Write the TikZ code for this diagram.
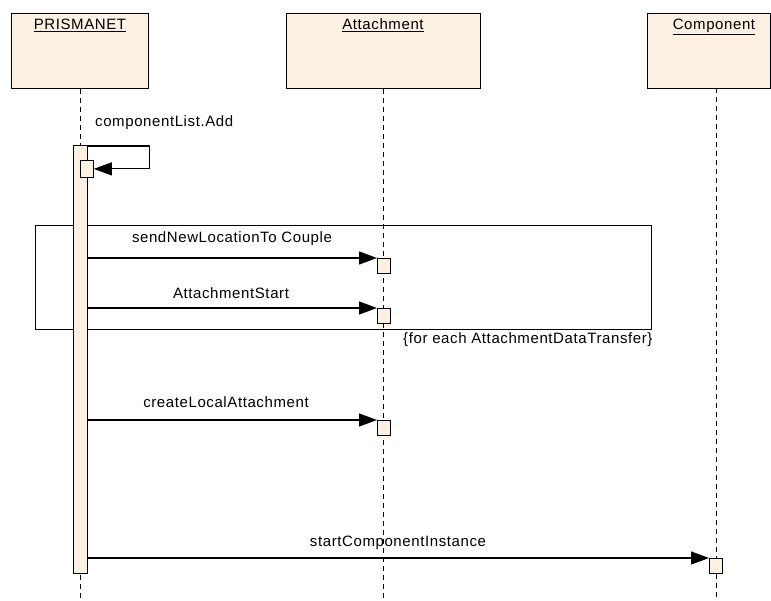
\documentclass[tikz,border=0pt]{standalone}
\usepackage{fontspec}
\setmainfont{Liberation Sans}[LetterSpace=4]
\usepackage{xcolor}
\usepackage{tikz}
\usetikzlibrary{shapes,arrows,arrows.meta,positioning}

\definecolor{umlbeige}{RGB}{251,240,225}

\begin{document}
\begin{tikzpicture}[x=1pt,y=-1pt,
        font=\fontsize{15}{18}\selectfont,
        head/.style={draw, line width=0.9pt, fill=umlbeige, anchor=north west, inner sep=0pt},
        act/.style={draw, line width=0.8pt, fill=umlbeige, anchor=north west, inner sep=0pt,
                    minimum width=13pt, minimum height=15pt},
        lifeline/.style={line width=0.9pt, dash pattern=on 5pt off 4pt},
        msg/.style={line width=1.1pt, -{Triangle[length=18pt,width=13pt]}},
        lbl/.style={inner sep=0pt, anchor=base}]
    \useasboundingbox (0,0) rectangle (771,601);

    % lifeline heads
    \node[head, minimum width=137pt, minimum height=75pt] (prisma) at (11,13) {};
    \node[head, minimum width=194pt, minimum height=75pt] (attach) at (286,13) {};
    \node[head, minimum width=123pt, minimum height=75pt] (comp) at (647,13) {};
    \node[lbl] (prismaname) at (80,30) {\underline{PRISMANET}};
    \node[lbl] (attachname) at (383,30) {\underline{Attachment}};
    \node[lbl] (compname) at (714,30) {\underline{Component}};

    % lifelines
    \draw[lifeline] (prisma.south) -- (prisma.south |- 0,601);
    \draw[lifeline] (attach.south) -- (attach.south |- 0,601);
    \draw[lifeline] (716,88) -- (716,601);

    % loop frame
    \draw[line width=0.9pt] (35,225) rectangle (651,329);
    \node[lbl, anchor=base west] (guard) at (403,344) {\{for each AttachmentDataTransfer\}};

    % activations
    \node[act, minimum width=14pt, minimum height=428pt] (bar) at (73,145) {};
    \node[act, minimum height=17pt] (self) at (80,160) {};
    \node[act] (send) at (377,258) {};
    \node[act] (start) at (377,308) {};
    \node[act] (create) at (377,420) {};
    \node[act] (instance) at (709,558) {};

    % messages
    \draw[msg] ([yshift=-1pt]bar.north east) -- ++(62,0) |- (self.east);
    \node[lbl, anchor=base west] (addlbl) at (95,127) {componentList.Add};

    \draw[msg] (bar.east |- send.north west) -- (send.north west);
    \node[lbl] (sendlbl) at (232,243) {sendNewLocationTo Couple};

    \draw[msg] (bar.east |- start.north west) -- (start.north west);
    \node[lbl] (startlbl) at (231,299) {AttachmentStart};

    \draw[msg] (bar.east |- create.north west) -- (create.north west);
    \node[lbl] (createlbl) at (226,407) {createLocalAttachment};

    \draw[msg] (bar.east |- instance.north west) -- (instance.north west);
    \node[lbl] (instancelbl) at (398,546) {startComponentInstance};
\end{tikzpicture}
\end{document}
